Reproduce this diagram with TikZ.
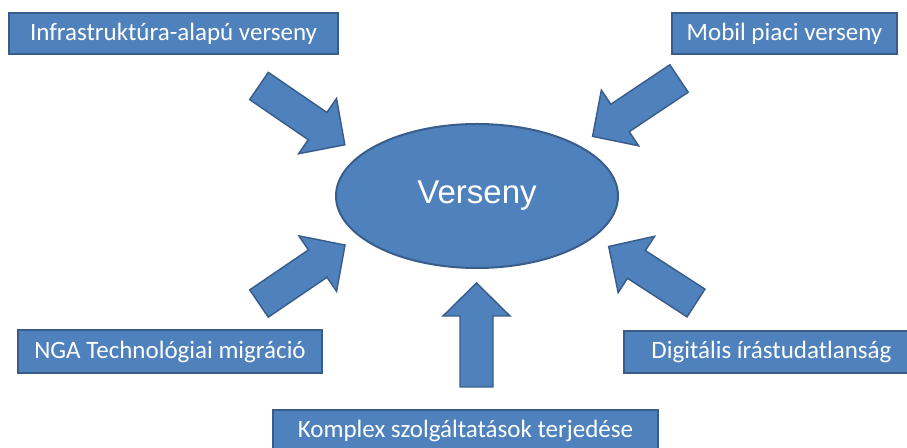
\documentclass[tikz,border=0pt]{standalone}
\usepackage{fontspec}
\setmainfont{Carlito}
\newfontfamily\versenyfont{Liberation Sans}
\usetikzlibrary{shapes.geometric}
\definecolor{ofill}{HTML}{4F81BD}
\definecolor{oline}{HTML}{385D8A}
\tikzset{
  labelbox/.style={draw=oline, line width=1.5pt, fill=ofill, text=white, inner sep=0pt,
    font=\fontsize{18.75pt}{22pt}\selectfont},
  centeroval/.style={ellipse, draw=oline, line width=1.5pt, fill=ofill, text=white, inner sep=0pt,
    minimum width=211.5pt, minimum height=108pt, font=\versenyfont\fontsize{24.75pt}{28pt}\selectfont},
  arrowshape/.style={draw=oline, line width=1.1pt, fill=ofill, line join=miter},
  blockarrow/.pic={\draw[arrowshape] (0,-16.5) -- (71,-16.5) -- (71,-33.5) -- (104,0) -- (71,33.5) -- (71,16.5) -- (0,16.5) -- cycle;}
}
\begin{document}
\begin{tikzpicture}[x=0.75pt,y=-0.75pt]
\path[use as bounding box, clip] (0,0) rectangle (907,448);
\node[centeroval] (verseny) at (477,196) {Verseny};
\node[labelbox, minimum width=246.75pt, minimum height=30.75pt] (infra) at (173.5,33.5) {Infrastruktúra-alapú verseny};
\node[labelbox, minimum width=168.75pt, minimum height=30.75pt] (mobil) at (784.5,33.5) {Mobil piaci verseny};
\node[labelbox, minimum width=228pt, minimum height=32.25pt] (nga) at (170,351.5) {NGA Technológiai migráció};
\node[labelbox, minimum width=221.25pt, minimum height=31.5pt] (digit) at (771.5,352) {Digitális írástudatlanság};
\node[labelbox, minimum width=288.75pt, minimum height=31.5pt] (komplex) at (465.5,431) {Komplex szolgáltatások terjedése};
\coordinate (a1) at (259,86);
\coordinate (a2) at (679,78.5);
\coordinate (a3) at (259,303.5);
\coordinate (a4) at (696,303);
\coordinate (a5) at (476.5,387);
\pic[rotate=-34.4] at (a1) {blockarrow};
\pic[rotate=-146.2] at (a2) {blockarrow};
\pic[rotate=34.2] at (a3) {blockarrow};
\pic[rotate=147.1] at (a4) {blockarrow};
\pic[rotate=90] at (a5) {blockarrow};
\end{tikzpicture}
\end{document}
